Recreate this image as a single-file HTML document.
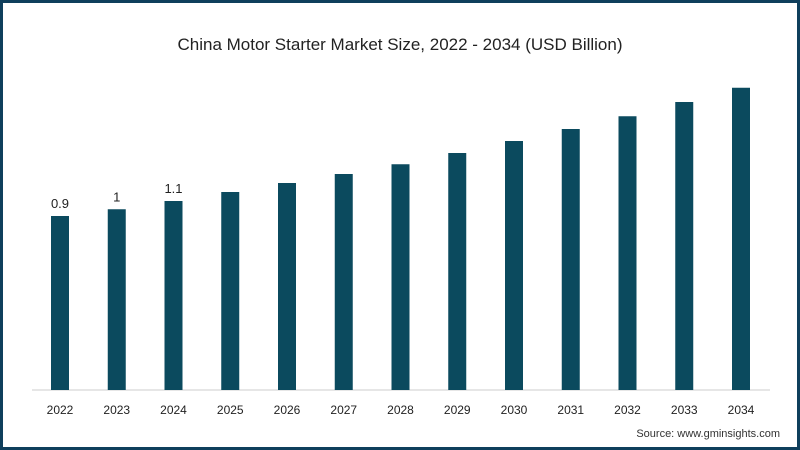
<!DOCTYPE html>
<html><head><meta charset="utf-8"><style>
html,body{margin:0;padding:0;background:#fff}
#wrap{position:relative;width:800px;height:450px;box-sizing:border-box;border:3px solid #0f3f5c;background:#fff;font-family:"Liberation Sans",sans-serif;overflow:hidden}
svg{position:absolute;left:-3px;top:-3px}
</style></head><body>
<div id="wrap">
<svg id="chart" width="800" height="450">
<text x="400" y="50" text-anchor="middle" font-size="17" fill="#222">China Motor Starter Market Size, 2022 - 2034 (USD Billion)</text>
<line x1="32" y1="390" x2="770" y2="390" stroke="#ccc" stroke-width="1"/>
<text x="780" y="437" text-anchor="end" font-size="11" fill="#333">Source: www.gminsights.com</text>
</svg>
</div>
<script>
const categories=["2022","2023","2024","2025","2026","2027","2028","2029","2030","2031","2032","2033","2034"];
const values=[0.9,0.99,1.1,1.22,1.34,1.46,1.59,1.74,1.9,2.06,2.23,2.42,2.61];
const valueLabels=["0.9","1","1.1","","","","","","","","","",""];
const svg=document.getElementById('chart');
const NS='http://www.w3.org/2000/svg';
const base=390, pxPerUnit=75, zeroOffset=106.5;
function yScale(v){return base-(zeroOffset+v*pxPerUnit);}
function xScale(i){return 60+i*56.75;}
const bw=18;
categories.forEach((c,i)=>{
  const r=document.createElementNS(NS,'rect');
  const y=yScale(values[i]);
  r.setAttribute('x',xScale(i)-bw/2);r.setAttribute('y',y);
  r.setAttribute('width',bw);r.setAttribute('height',base-y);
  r.setAttribute('fill','#0b4a5e');
  
  
  svg.appendChild(r);
  const t=document.createElementNS(NS,'text');
  t.setAttribute('x',xScale(i));t.setAttribute('y',414);
  t.setAttribute('text-anchor','middle');t.setAttribute('font-size','12');t.setAttribute('fill','#222');
  t.textContent=c;
  
  
  svg.appendChild(t);
  if(valueLabels[i]){
    const l=document.createElementNS(NS,'text');
    l.setAttribute('x',xScale(i));l.setAttribute('y',y-8);
    l.setAttribute('text-anchor','middle');l.setAttribute('font-size','13');l.setAttribute('fill','#222');
    l.textContent=valueLabels[i];
    
    
    svg.appendChild(l);
  }
});
</script>
</body></html>
